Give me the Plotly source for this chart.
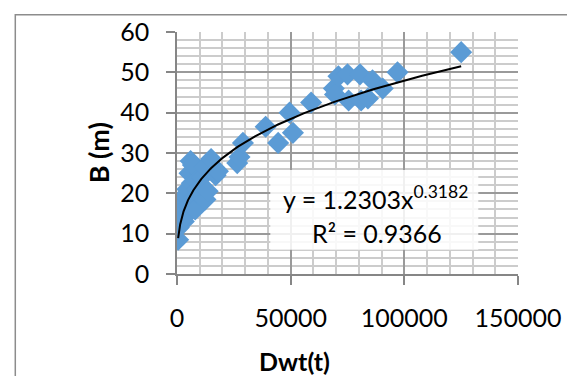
import numpy as np
import plotly.graph_objects as go

# Data
dwt = [500, 800, 1000, 1200, 1500, 1000, 2000, 2500, 3000, 3500, 4000, 4500,
       5000, 5500, 6000, 6500, 7000, 7500, 8000, 8500, 9000, 10000, 11000,
       12000, 12500, 13500, 15000, 17000, 18000, 26500, 27500, 29000, 39000,
       44500, 49500, 51000, 59000, 69000, 69500, 71000, 75000, 75500, 80500,
       81000, 84000, 86000, 90500, 97000, 125000]
beam = [8.5, 11.5, 12.5, 14, 15.5, 17, 18, 16, 13, 19.5, 14.5, 21,
        17, 25, 28, 22.5, 27, 19, 16, 23, 21, 19.5, 24,
        26.5, 18.5, 20.5, 28.5, 24.5, 25.5, 27.5, 29, 32.5, 36.5,
        32.5, 40, 35, 42.5, 46, 44.5, 49, 49.5, 43, 49.5,
        43, 43.5, 48, 46, 50, 55]

# Trendline coefficients shown on the chart
coef_a = 1.2303
coef_b = 0.3182
r_squared = 0.9366

x_ticks = [0, 50000, 100000, 150000]
y_ticks = [0, 10, 20, 30, 40, 50, 60]

FONT = "Lato"
OFF = 8  # page body margin
W, H = 575 - OFF, 376 - OFF
L, R, T, B = 176.7 - OFF, 517.7 - OFF, 31.7 - OFF, 274.3 - OFF


def px(xp):
    return (xp - OFF - L) / (R - L)


def py(yp):
    return (B - (yp - OFF)) / (B - T)


trend_x = np.geomspace(min(dwt), max(dwt), 300)
trend_y = coef_a * trend_x ** coef_b

fig = go.Figure()
fig.add_trace(go.Scatter(
    x=dwt, y=beam, mode="markers",
    marker=dict(symbol="diamond", size=17, color="#5B9BD5", line=dict(width=0)),
    showlegend=False, hoverinfo="x+y"))
fig.add_trace(go.Scatter(
    x=trend_x, y=trend_y, mode="lines",
    line=dict(color="black", width=2), showlegend=False, hoverinfo="skip"))

axis_common = dict(
    showgrid=True, gridcolor="#9a9a9a", gridwidth=1.5,
    showline=True, linecolor="#868686", linewidth=1.5,
    ticks="outside", ticklen=9, tickcolor="#868686", tickwidth=1.5,
    tickfont=dict(family=FONT, size=25, color="black"),
    zeroline=False, fixedrange=True,
)

fig.update_layout(
    width=W, height=H,
    margin=dict(l=L, r=W - R, t=T, b=H - B, autoexpand=False),
    paper_bgcolor="white", plot_bgcolor="white",
    xaxis=dict(range=[0, 150000], tickvals=x_ticks, ticktext=[str(v) for v in x_ticks],
               minor=dict(dtick=10000, showgrid=True, gridcolor="#cccccc", gridwidth=1.5),
               ticklabelstandoff=12, **axis_common),
    yaxis=dict(range=[0, 60], tickvals=y_ticks, ticktext=[str(v) for v in y_ticks],
               minor=dict(dtick=2, showgrid=True, gridcolor="#cccccc", gridwidth=1.5),
               ticklabelstandoff=12, **axis_common),
    shapes=[
        # chart area border
        dict(type="rect", xref="paper", yref="paper",
             x0=px(15), x1=px(600), y0=py(400), y1=py(14.5),
             line=dict(color="#8c8c8c", width=1.5), fillcolor="rgba(0,0,0,0)", layer="below"),
        # equation label background
        dict(type="rect", xref="paper", yref="paper",
             x0=px(270), x1=px(478), y0=py(250), y1=py(170),
             line=dict(width=0), fillcolor="rgba(255,255,255,0.85)", layer="above"),
    ],
    annotations=[
        dict(xref="paper", yref="paper", x=px(375.5), y=py(198), showarrow=False,
             text=f"y = {coef_a}x<sup>{coef_b}</sup>",
             font=dict(family=FONT, size=25, color="black"), xanchor="center", yanchor="middle"),
        dict(xref="paper", yref="paper", x=px(376.5), y=py(233), showarrow=False,
             text=f"R² = {r_squared}",
             font=dict(family=FONT, size=25, color="black"), xanchor="center", yanchor="middle"),
        dict(xref="paper", yref="paper", x=px(294), y=py(362), showarrow=False,
             text="<b>Dwt(t)</b>", font=dict(family=FONT, size=25, color="black"),
             xanchor="center", yanchor="middle"),
        dict(xref="paper", yref="paper", x=px(98), y=py(153), showarrow=False,
             text="<b>B (m)</b>", textangle=-90, font=dict(family=FONT, size=27, color="black"),
             xanchor="center", yanchor="middle"),
    ],
)

fig.write_html("out.html")
